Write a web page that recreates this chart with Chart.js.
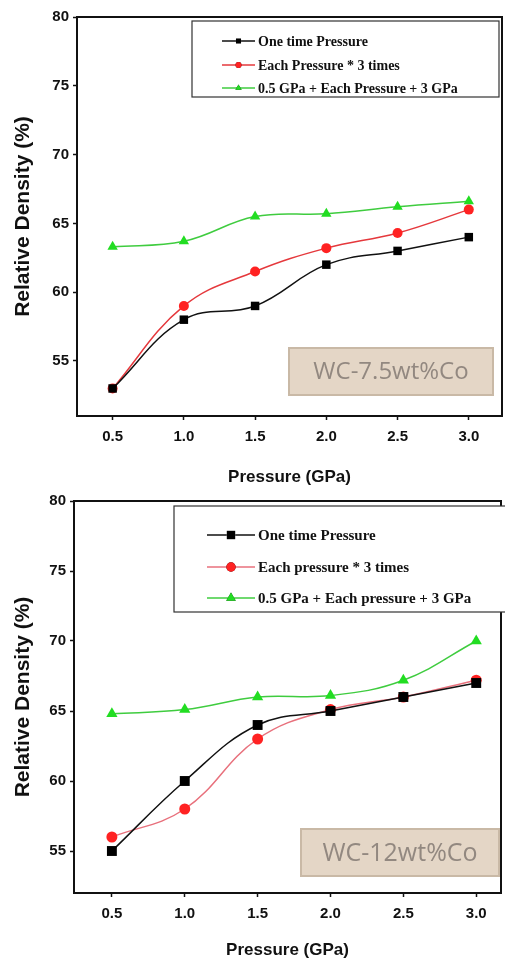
<!DOCTYPE html>
<html>
<head>
<meta charset="utf-8">
<script src="https://cdn.jsdelivr.net/npm/chart.js@4/dist/chart.umd.min.js"></script>
<style>
  html, body { margin: 0; padding: 0; background: #fff; overflow: hidden; }
  .wrap { position: absolute; left: 0; width: 508px; }
</style>
</head>
<body>
<div class="wrap" style="top:0;height:488px"><canvas id="c1"></canvas></div>
<div class="wrap" style="top:488px;height:475px"><canvas id="c2"></canvas></div>
<script>
// pressure values (GPa), shared by both panels
const pressures = [0.5, 1.0, 1.5, 2.0, 2.5, 3.0]
const xTicks = [0.5, 1.0, 1.5, 2.0, 2.5, 3.0]
const yTicks = [55, 60, 65, 70, 75, 80]

// WC-7.5wt%Co
const top_oneTime = [53, 58, 59, 62, 63, 64]
const top_each3 = [53, 59, 61.5, 63.2, 64.3, 66]
const top_stepped = [63.3, 63.7, 65.5, 65.7, 66.2, 66.6]
const topLabels = ['One time Pressure', 'Each Pressure * 3 times', '0.5 GPa + Each Pressure + 3 GPa']

// WC-12wt%Co
const bot_oneTime = [55, 60, 64, 65, 66, 67]
const bot_each3 = [56, 58, 63, 65.1, 66, 67.2]
const bot_stepped = [64.8, 65.1, 66, 66.1, 67.2, 70]
const botLabels = ['One time Pressure', 'Each pressure * 3 times', '0.5 GPa + Each pressure + 3 GPa']

const toXY = arr => arr.map((v, i) => ({ x: pressures[i], y: v }))

function makeSets(labels, a, b, c, big) {
    return [{
        label: labels[0], data: toXY(a),
        borderColor: '#111', backgroundColor: '#000',
        pointStyle: 'rect', pointRadius: big ? 7 : 6
    }, {
        label: labels[1], data: toXY(b),
        borderColor: big ? '#e8707c' : '#e5383c', backgroundColor: '#ff2222',
        pointStyle: 'circle', pointRadius: big ? 5.5 : 5
    }, {
        label: labels[2], data: toXY(c),
        borderColor: '#3fcc3f', backgroundColor: '#22dd22',
        pointStyle: 'triangle', pointRadius: big ? 6.5 : 6
    }]
}

// frame + legend box + sample label
function decorations(cfg) {
    return {
        id: 'deco',
        afterDatasetsDraw(chart) {
            const { ctx, chartArea: a } = chart
            ctx.save()
            ctx.strokeStyle = '#111'
            ctx.lineWidth = 2
            ctx.strokeRect(a.left, a.top, a.right - a.left, a.bottom - a.top)

            // sample label box
            const s = cfg.sample
            ctx.fillStyle = '#e4d6c6'
            ctx.fillRect(s.x, s.y, s.w, s.h)
            ctx.strokeStyle = '#c9b9a6'
            ctx.lineWidth = 2
            ctx.strokeRect(s.x, s.y, s.w, s.h)
            ctx.fillStyle = '#928880'
            ctx.font = s.font + 'px "Open Sans", sans-serif'
            ctx.textAlign = 'center'
            ctx.textBaseline = 'middle'
            ctx.fillText(s.text, s.x + s.w / 2, s.y + s.h / 2 + 1)

            // legend
            const L = cfg.legend
            ctx.fillStyle = '#fff'
            ctx.fillRect(L.x, L.y, L.w, L.h)
            ctx.strokeStyle = '#333'
            ctx.lineWidth = 1.2
            ctx.strokeRect(L.x, L.y, L.w, L.h)
            ctx.font = 'bold ' + L.font + 'px "Liberation Serif", serif'
            ctx.textAlign = 'left'
            chart.data.datasets.forEach((ds, i) => {
                const y = L.rows[i]
                ctx.strokeStyle = ds.borderColor
                ctx.lineWidth = 1.5
                ctx.beginPath()
                ctx.moveTo(L.lineX0, y)
                ctx.lineTo(L.lineX1, y)
                ctx.stroke()
                Chart.helpers.drawPoint(ctx, {
                    pointStyle: ds.pointStyle, radius: ds.pointRadius * L.mk,
                    borderWidth: 0
                }, (L.lineX0 + L.lineX1) / 2, y)
                ctx.fillStyle = ds.backgroundColor
                ctx.fill()
                ctx.fillStyle = '#111'
                ctx.fillText(ds.label, L.textX, y + 1)
            })
            ctx.restore()
        }
    }
}

function makeChart(id, sets, o) {
    const tickFont = { family: '"Liberation Sans", Arial', size: 15, weight: 'bold' }
    const xTitleFont = { family: '"Liberation Sans", Arial', size: 17, weight: 'bold' }
    const yTitleFont = { family: '"Liberation Sans", Arial', size: 21, weight: 'bold' }
    return new Chart(document.getElementById(id), {
        type: 'line',
        data: { datasets: sets },
        plugins: [decorations(o)],
        options: {
            responsive: true,
            maintainAspectRatio: false,
            animation: false,
            layout: { padding: { top: o.padTop, right: 0, left: 0, bottom: 0 } },
            elements: {
                line: { borderWidth: 1.5, tension: 0.4 },
                point: { borderWidth: 0, hoverRadius: 6 }
            },
            plugins: { legend: { display: false }, tooltip: { enabled: false } },
            scales: {
                x: {
                    type: 'linear', min: o.xMin, max: o.xMax,
                    afterBuildTicks: s => { s.ticks = xTicks.map(v => ({ value: v })) },
                    afterFit: s => { s.height = o.xHeight },
                    ticks: { color: '#111', font: tickFont, padding: 8, callback: v => Number(v).toFixed(1) },
                    grid: { display: true, drawOnChartArea: false, drawTicks: true, tickLength: 4, color: '#111', tickWidth: 1.5 },
                    border: { display: true, color: '#111', width: 2 },
                    title: { display: true, text: 'Pressure (GPa)', color: '#111', font: xTitleFont, padding: { top: 0, bottom: o.xTitlePad } }
                },
                y: {
                    min: o.yMin, max: 80,
                    afterBuildTicks: s => { s.ticks = yTicks.map(v => ({ value: v })) },
                    afterFit: s => { s.width = o.yWidth },
                    ticks: { color: '#111', font: tickFont, padding: 4 },
                    grid: { display: true, drawOnChartArea: false, drawTicks: true, tickLength: 4, color: '#111', tickWidth: 1.5 },
                    border: { display: true, color: '#111', width: 2 },
                    title: { display: true, text: 'Relative Density (%)', color: '#111', font: yTitleFont, padding: { top: 11, bottom: 0 } }
                }
            }
        }
    })
}

makeChart('c1', makeSets(topLabels, top_oneTime, top_each3, top_stepped, false), {
    padTop: 17, xMin: 0.25, xMax: 3.233, yMin: 51, yWidth: 77, xHeight: 72, xTitlePad: 0,
    legend: { x: 192, y: 21, w: 307, h: 76, font: 14, rows: [41, 65, 88], lineX0: 222, lineX1: 255, textX: 258, mk: 0.6 },
    sample: { x: 289, y: 348, w: 204, h: 47, text: 'WC-7.5wt%Co', font: 24 }
})

makeChart('c2', makeSets(botLabels, bot_oneTime, bot_each3, bot_stepped, true), {
    padTop: 12, xMin: 0.24, xMax: 3.17, yMin: 52, yWidth: 74, xHeight: 70, xTitlePad: 2,
    legend: { x: 174, y: 18, w: 340, h: 106, font: 15, rows: [47, 79, 110], lineX0: 207, lineX1: 255, textX: 258, mk: 0.85 },
    sample: { x: 301, y: 341, w: 198, h: 47, text: 'WC-12wt%Co', font: 25 }
})
</script>
</body>
</html>
